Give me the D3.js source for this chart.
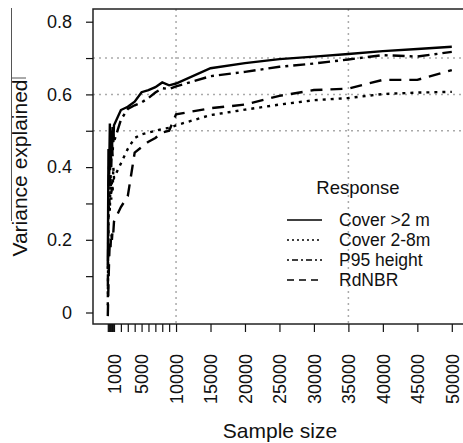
<!DOCTYPE html>
<html>
<head>
<meta charset="utf-8">
<script src="https://cdnjs.cloudflare.com/ajax/libs/d3/7.8.5/d3.min.js"></script>
<style>
  body { margin: 0; background: #fff; }
  svg { font-family: "Liberation Sans", Arial, sans-serif; }
  .axis text { font-size: 18px; fill: #111; }
  .axis line { stroke: #111; stroke-width: 1.2; }
  .grid { stroke: #aaa; stroke-width: 1.5; stroke-dasharray: 2,4; }
  .series { fill: none; stroke: #000; stroke-width: 2.4; }
  .legend { font-size: 17.5px; fill: #111; }
</style>
</head>
<body>
<div id="chart"></div>
<script>
// sample sizes (x) and the four responses (variance explained)
var sampleSize = [100, 200, 300, 400, 500, 600, 700, 800, 900, 1000,
  2000, 3000, 4000, 5000, 6000, 7000, 8000, 9000, 10000,
  15000, 20000, 25000, 30000, 35000, 40000, 45000, 50000];

var cover2m = [0.12, 0.45, 0.38, 0.52, 0.42, 0.50, 0.44, 0.51, 0.47, 0.515,
  0.557, 0.566, 0.58, 0.606, 0.612, 0.62, 0.633, 0.625, 0.63,
  0.672, 0.686, 0.697, 0.704, 0.711, 0.719, 0.725, 0.731];

var cover28m = [0.02, 0.25, 0.33, 0.28, 0.38, 0.31, 0.36, 0.33, 0.40, 0.37,
  0.41, 0.45, 0.48, 0.49, 0.495, 0.50, 0.505, 0.508, 0.515,
  0.543, 0.558, 0.572, 0.584, 0.59, 0.601, 0.605, 0.607];

var p95height = [0.05, 0.30, 0.42, 0.35, 0.48, 0.40, 0.46, 0.43, 0.49, 0.47,
  0.53, 0.56, 0.57, 0.578, 0.59, 0.605, 0.617, 0.615, 0.622,
  0.65, 0.662, 0.676, 0.685, 0.696, 0.708, 0.704, 0.717];

var rdnbr = [-0.01, 0.08, 0.15, 0.20, 0.18, 0.22, 0.20, 0.23, 0.22, 0.25,
  0.29, 0.32, 0.44, 0.455, 0.47, 0.48, 0.495, 0.50, 0.545,
  0.562, 0.572, 0.596, 0.612, 0.616, 0.64, 0.64, 0.667];

var seriesNames = ["Cover >2 m", "Cover 2-8m", "P95 height", "RdNBR"];
var xLabels = [1000, 5000, 10000, 15000, 20000, 25000, 30000, 35000, 40000, 45000, 50000];
var yTicks = [0, 0.1, 0.2, 0.3, 0.4, 0.5, 0.6, 0.7, 0.8];
var yLabels = [0, 0.2, 0.4, 0.6, 0.8];
var xGrid = [10000, 35000];
var yGrid = [0.5, 0.6, 0.7];

var W = 463, H = 443;
var box = { left: 93, top: 9, right: 470, bottom: 324 };
var dashes = ["", "3,5", "3,5,12,5", "12,8"];
var legendDashes = ["", "2,3", "2,3,6,3", "7,5"];

var x = d3.scaleLinear().domain([0, 50000]).range([107.1, 451.8]);
var y = d3.scaleLinear().domain([0, 0.8]).range([312.5, 21.7]);

var svg = d3.select("#chart").append("svg")
  .attr("width", W).attr("height", H);

// grid
svg.selectAll(".gx").data(xGrid).enter().append("line")
  .attr("class", "grid")
  .attr("x1", function(d) { return x(d); }).attr("x2", function(d) { return x(d); })
  .attr("y1", box.top).attr("y2", box.bottom);
svg.selectAll(".gy").data(yGrid).enter().append("line")
  .attr("class", "grid")
  .attr("x1", box.left).attr("x2", box.right)
  .attr("y1", function(d) { return y(d); }).attr("y2", function(d) { return y(d); });

// lines
var all = [cover2m, cover28m, p95height, rdnbr];
var line = d3.line()
  .x(function(d, i) { return x(sampleSize[i]); })
  .y(function(d) { return y(d); });

svg.selectAll(".series").data(all).enter().append("path")
  .attr("class", "series")
  .attr("d", line)
  .attr("stroke-dasharray", function(d, i) { return dashes[i]; });

// box
svg.append("rect")
  .attr("x", box.left).attr("y", box.top)
  .attr("width", box.right - box.left).attr("height", box.bottom - box.top)
  .attr("fill", "none").attr("stroke", "#222").attr("stroke-width", 1.5);

// x axis
var gx = svg.append("g")
  .attr("class", "axis")
  .attr("transform", "translate(0," + box.bottom + ")")
  .call(d3.axisBottom(x).tickValues(sampleSize).tickSize(8)
    .tickFormat(function(d) { return xLabels.indexOf(d) >= 0 ? d : ""; }));
gx.select(".domain").remove();
gx.selectAll("line").attr("stroke-width", 1);
gx.selectAll("text")
  .attr("transform", "rotate(-90)")
  .attr("x", -30).attr("y", 0).attr("dy", "0.35em")
  .style("text-anchor", "end");

// y axis
var gy = svg.append("g")
  .attr("class", "axis")
  .attr("transform", "translate(" + box.left + ",0)")
  .call(d3.axisLeft(y).tickValues(yTicks).tickSize(7).tickPadding(14)
    .tickFormat(function(d) { return yLabels.indexOf(d) >= 0 ? d3.format("")(d) : ""; }));
gy.select(".domain").remove();

// axis titles
svg.append("text")
  .attr("x", 280).attr("y", 438)
  .attr("text-anchor", "middle")
  .style("font-size", "21px").attr("fill", "#111")
  .text("Sample size");

svg.append("text")
  .attr("transform", "translate(27,168) rotate(-90)")
  .attr("text-anchor", "middle")
  .style("font-size", "21px").attr("fill", "#111")
  .text("Variance explained");

// stray frame lines at the left edge of the figure
svg.append("line").attr("x1", 11.5).attr("x2", 11.5).attr("y1", 8).attr("y2", 221)
  .attr("stroke", "#555").attr("stroke-width", 1);
svg.append("line").attr("x1", 11.5).attr("x2", 26).attr("y1", 78).attr("y2", 78)
  .attr("stroke", "#555").attr("stroke-width", 1);

// legend
svg.append("text")
  .attr("x", 358).attr("y", 194)
  .attr("text-anchor", "middle")
  .style("font-size", "18.5px").attr("fill", "#111")
  .text("Response");

var leg = svg.selectAll(".leg").data(seriesNames).enter().append("g")
  .attr("transform", function(d, i) { return "translate(0," + (220 + i * 20) + ")"; });
leg.append("line")
  .attr("x1", 287).attr("x2", 322).attr("y1", 0).attr("y2", 0)
  .attr("stroke", "#000").attr("stroke-width", 1.4)
  .attr("stroke-dasharray", function(d, i) { return legendDashes[i]; });
leg.append("text")
  .attr("class", "legend")
  .attr("x", 339).attr("dy", "0.35em")
  .text(function(d) { return d; });
</script>
</body>
</html>
